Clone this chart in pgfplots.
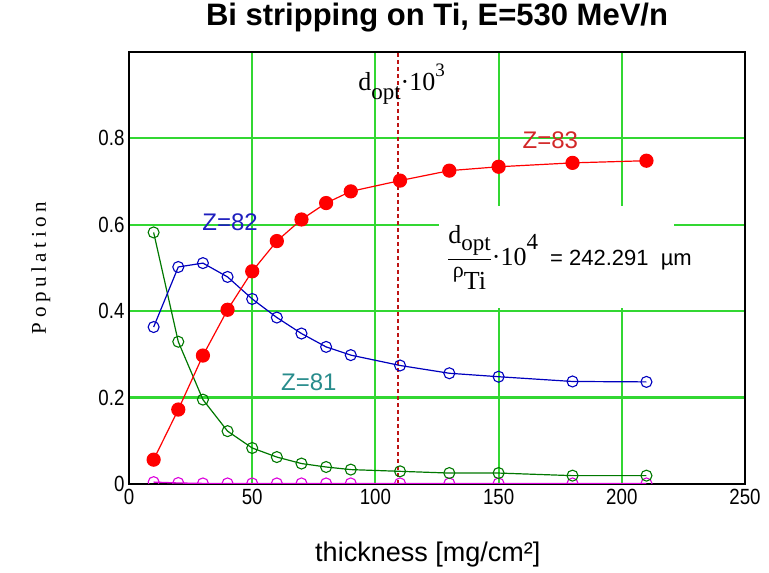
\documentclass[border=0pt]{standalone}
\usepackage{pgfplots}
\pgfplotsset{compat=1.18}
\usepackage{amsmath}
\usepackage{fontspec}
\setmainfont{Liberation Sans}
\newfontfamily\narrowsans{Liberation Sans}[FakeStretch=0.85]
\newfontfamily\serifA{Liberation Serif}
\newfontfamily\popfont{Liberation Serif}[LetterSpace=22]

\definecolor{gridgreen}{RGB}{50,215,50}
\definecolor{zred}{RGB}{255,0,0}
\definecolor{zblue}{RGB}{0,0,190}
\definecolor{zgreen}{RGB}{0,120,0}
\definecolor{zmag}{RGB}{220,0,220}
\definecolor{lab83}{RGB}{210,40,40}
\definecolor{lab82}{RGB}{30,30,190}
\definecolor{lab81}{RGB}{40,140,140}
\definecolor{dashred}{RGB}{190,20,20}

\pgfplotstableread{
x    z83   z82   z81   z80
10   0.056 0.363 0.582 0.004
20   0.172 0.502 0.329 0.002
30   0.297 0.511 0.195 0.001
40   0.403 0.479 0.122 0.001
50   0.492 0.428 0.083 0.001
60   0.562 0.385 0.062 0.001
70   0.612 0.348 0.047 0.001
80   0.650 0.317 0.039 0.001
90   0.677 0.298 0.033 0.001
110  0.702 0.274 0.029 0.001
130  0.725 0.256 0.025 0.001
150  0.734 0.248 0.025 0.001
180  0.743 0.237 0.019 0.001
210  0.748 0.236 0.019 0.001
}\datatable

\begin{document}
\begin{tikzpicture}
\begin{axis}[
  name=ax,
  scale only axis,
  width=616pt, height=432pt,
  xmin=0, xmax=250, ymin=0, ymax=1,
  xtick={0,50,100,150,200,250},
  ytick={0,0.2,0.4,0.6,0.8},
  grid=major,
  major grid style={gridgreen, line width=2.1pt},
  axis line style={black, line width=1.8pt},
  tick style={draw=none},
  /pgf/number format/assume math mode=true,
  ticklabel style={font=\narrowsans\fontsize{22}{24}\selectfont},
  yticklabel style={/pgf/number format/fixed, /pgf/number format/precision=1, xshift=-1pt},
  xticklabel style={yshift=-2pt},
  title={Bi stripping on Ti, E=530 MeV/n},
  title style={at={(axis description cs:0.5,1)}, anchor=center, yshift=28pt,
    font=\bfseries\fontsize{31}{34}\selectfont},
  xlabel={thickness [mg/cm²]},
  xlabel style={at={(axis description cs:0.485,0)}, anchor=center, yshift=-71pt,
    font=\fontsize{27}{30}\selectfont},
  ylabel={Population},
  ylabel style={at={(axis description cs:-0.143,0.5)}, anchor=center,
    font=\popfont\fontsize{21}{24}\selectfont},
  clip marker paths=true,
]
\addplot[dashred, line width=1.3pt, dash pattern=on 4pt off 3pt] coordinates {(109.2,0) (109.2,1)};
\addplot[zmag, line width=1.3pt, mark=o, mark size=5.5pt, mark options={line width=1.1pt}] table[x=x,y=z80] {\datatable};
\addplot[zgreen, line width=1.2pt, mark=o, mark size=5.5pt, mark options={line width=1.1pt}] table[x=x,y=z81] {\datatable};
\addplot[zblue, line width=1.2pt, mark=o, mark size=5.5pt, mark options={line width=1.1pt}] table[x=x,y=z82] {\datatable};
\addplot[zred, line width=1.2pt, mark=*, mark size=6.5pt, mark options={fill=zred}] table[x=x,y=z83] {\datatable};

\fill[white] (axis cs:126,0.407) rectangle (axis cs:221,0.643);
\node[anchor=west, inner sep=0pt, font=\fontsize{22}{24}\selectfont] at (axis cs:129,0.525)
  {{\serifA\fontsize{26}{28}\selectfont $\displaystyle\frac{\mbox{d\raisebox{-0.3em}{\fontsize{23}{24}\selectfont opt}}}{\mbox{\raisebox{0.2em}{\fontsize{22}{23}\selectfont ρ}\raisebox{-0.25em}{Ti}}}\mbox{·10\raisebox{0.6em}{\fontsize{23}{24}\selectfont 4}}$}\hspace{6pt} = 242.291\ \ µm};
\node[anchor=west, inner sep=0pt, font=\serifA\fontsize{26}{28}\selectfont] at (axis cs:93,0.925)
  {d\raisebox{-0.35em}{\fontsize{23}{24}\selectfont opt}·10\raisebox{0.55em}{\fontsize{19}{20}\selectfont 3}};
\node[lab83, font=\fontsize{24}{26}\selectfont] at (axis cs:171,0.795) {Z=83};
\node[lab82, font=\fontsize{24}{26}\selectfont] at (axis cs:41,0.606) {Z=82};
\node[lab81, font=\fontsize{24}{26}\selectfont] at (axis cs:73,0.236) {Z=81};
\end{axis}
\path[use as bounding box] ([xshift=-129pt,yshift=-89pt]ax.south west) rectangle ([xshift=24pt,yshift=50pt]ax.north east);
\end{tikzpicture}
\end{document}
